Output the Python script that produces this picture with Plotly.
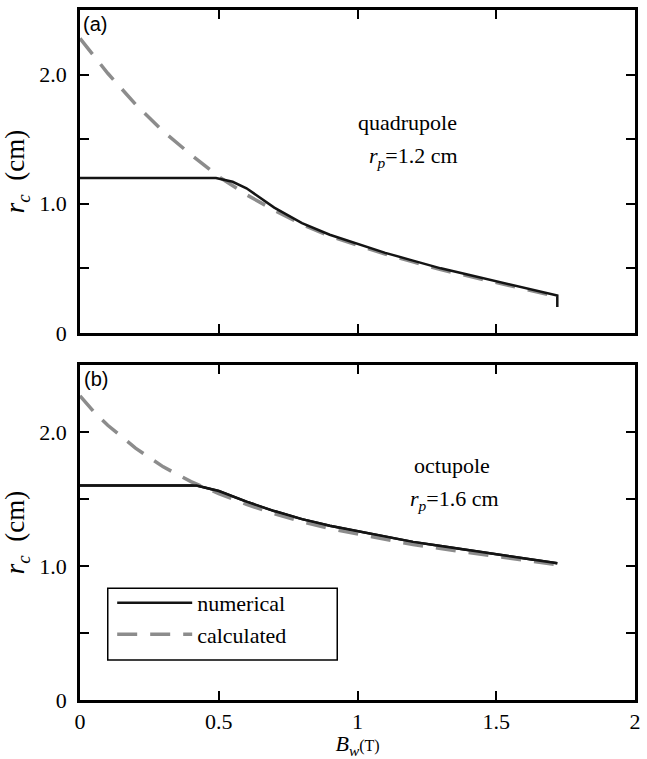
import plotly.graph_objects as go
from plotly.subplots import make_subplots

# ---- data ----
# panel (a) quadrupole, r_p = 1.2 cm
a_num_B = [0.0, 0.1, 0.2, 0.3, 0.4, 0.49, 0.55, 0.6, 0.7, 0.8, 0.9, 1.0, 1.1, 1.2, 1.3, 1.4, 1.5, 1.6, 1.72, 1.72]
a_num_r = [1.2, 1.2, 1.2, 1.2, 1.2, 1.2, 1.17, 1.12, 0.97, 0.85, 0.76, 0.69, 0.62, 0.56, 0.50, 0.45, 0.40, 0.35, 0.29, 0.20]
a_calc_B = [0.0, 0.1, 0.2, 0.3, 0.4, 0.5, 0.6, 0.7, 0.8, 0.9, 1.0, 1.1, 1.2, 1.3, 1.4, 1.5, 1.6, 1.72]
a_calc_r = [2.28, 2.01, 1.77, 1.56, 1.38, 1.21, 1.07, 0.95, 0.84, 0.75, 0.68, 0.61, 0.55, 0.49, 0.44, 0.39, 0.34, 0.28]

# panel (b) octupole, r_p = 1.6 cm
b_num_B = [0.0, 0.1, 0.2, 0.3, 0.42, 0.5, 0.6, 0.7, 0.8, 0.9, 1.0, 1.1, 1.2, 1.3, 1.4, 1.5, 1.6, 1.72]
b_num_r = [1.6, 1.6, 1.6, 1.6, 1.6, 1.56, 1.48, 1.41, 1.35, 1.30, 1.26, 1.22, 1.18, 1.15, 1.12, 1.09, 1.06, 1.02]
b_calc_B = [0.0, 0.05, 0.1, 0.2, 0.3, 0.4, 0.5, 0.6, 0.7, 0.8, 0.9, 1.0, 1.1, 1.2, 1.3, 1.4, 1.5, 1.6, 1.72]
b_calc_r = [2.27, 2.15, 2.05, 1.88, 1.74, 1.63, 1.54, 1.46, 1.39, 1.33, 1.28, 1.24, 1.20, 1.16, 1.13, 1.10, 1.07, 1.04, 1.01]

x_tickvals = [0, 0.5, 1, 1.5, 2]
x_ticktext = ["0", "0.5", "1", "1.5", "2"]
y_tickvals = [0, 0.5, 1, 1.5, 2]
y_ticktext = ["0", "", "1.0", "", "2.0"]

BLACK = "#141414"
GRAY = "#8c8c8c"
SERIF = "Liberation Serif"

fig = make_subplots(rows=2, cols=1, shared_xaxes=False, vertical_spacing=0.05)

fig.add_trace(go.Scatter(x=a_calc_B, y=a_calc_r, mode="lines", name="calculated",
                         line=dict(color=GRAY, width=3.5, dash="20px,13px"), showlegend=False), row=1, col=1)
fig.add_trace(go.Scatter(x=a_num_B, y=a_num_r, mode="lines", name="numerical",
                         line=dict(color=BLACK, width=2.5), showlegend=False), row=1, col=1)
fig.add_trace(go.Scatter(x=b_num_B, y=b_num_r, mode="lines", name="numerical",
                         line=dict(color=BLACK, width=2.5), showlegend=True), row=2, col=1)
fig.add_trace(go.Scatter(x=b_calc_B, y=b_calc_r, mode="lines", name="calculated",
                         line=dict(color=GRAY, width=3.5, dash="20px,13px"), showlegend=True), row=2, col=1)
# redraw numerical on top in panel b (hidden from legend)
fig.add_trace(go.Scatter(x=b_num_B, y=b_num_r, mode="lines", name="numerical",
                         line=dict(color=BLACK, width=2.5), showlegend=False), row=2, col=1)

axis_common = dict(showline=True, linewidth=2.5, linecolor="black", mirror="ticks",
                   ticks="inside", ticklen=9, tickwidth=2, tickcolor="black",
                   showgrid=False, zeroline=False)

fig.update_xaxes(**axis_common, range=[0, 2], tickvals=x_tickvals, ticktext=x_ticktext,
                 tickfont=dict(family=SERIF, size=22, color="black"))
fig.update_xaxes(showticklabels=False, row=1, col=1)
fig.update_xaxes(title=dict(text="<i>B</i><sub><i>w</i></sub><span style='font-size:16px'>(T)</span>",
                            font=dict(family=SERIF, size=22, color="black"), standoff=2), row=2, col=1)
fig.update_yaxes(**axis_common, range=[0, 2.5], tickvals=y_tickvals, ticktext=y_ticktext,
                 tickfont=dict(family=SERIF, size=22, color="black"), ticklabelstandoff=6,
                 title=dict(text="<i>r</i><sub><i>c</i></sub>  (cm)", font=dict(family=SERIF, size=27, color="black"),
                            standoff=8))

# legend frame (paper coords)
LEG_BOX = dict(x0=0.05, x1=0.4635, y0=0.058, y1=0.162)

fig.update_layout(
    width=647, height=759,
    margin=dict(l=80, r=6, t=10, b=59),
    paper_bgcolor="white", plot_bgcolor="white",
    yaxis=dict(domain=[0.532, 1.0]),
    yaxis2=dict(domain=[0.0, 0.4855]),
    legend=dict(x=0.058, y=0.064, xanchor="left", yanchor="bottom", xref="paper", yref="paper",
                borderwidth=0, bgcolor="rgba(0,0,0,0)",
                font=dict(family=SERIF, size=22, color="black"), itemwidth=75,
                tracegroupgap=0),
    shapes=[dict(type="rect", xref="paper", yref="paper", line=dict(color="black", width=1.5),
                 fillcolor="white", layer="below", **LEG_BOX)],
    annotations=[
        dict(text="(a)", x=0.002, y=0.999, xref="paper", yref="paper", xanchor="left", yanchor="top",
             showarrow=False, font=dict(family="Liberation Sans", size=20, color="black")),
        dict(text="(b)", x=0.004, y=0.484, xref="paper", yref="paper", xanchor="left", yanchor="top",
             showarrow=False, font=dict(family="Liberation Sans", size=20, color="black")),
        dict(text="quadrupole", x=1.18, y=1.63, xref="x", yref="y", showarrow=False,
             font=dict(family=SERIF, size=22, color="black")),
        dict(text="<i>r</i><sub><i>p</i></sub>=1.2 cm", x=1.2, y=1.36, xref="x", yref="y", showarrow=False,
             font=dict(family=SERIF, size=22, color="black")),
        dict(text="octupole", x=1.34, y=1.75, xref="x2", yref="y2", showarrow=False,
             font=dict(family=SERIF, size=22, color="black")),
        dict(text="<i>r</i><sub><i>p</i></sub>=1.6 cm", x=1.35, y=1.49, xref="x2", yref="y2", showarrow=False,
             font=dict(family=SERIF, size=22, color="black")),
    ],
)

fig.write_html("out.html")
